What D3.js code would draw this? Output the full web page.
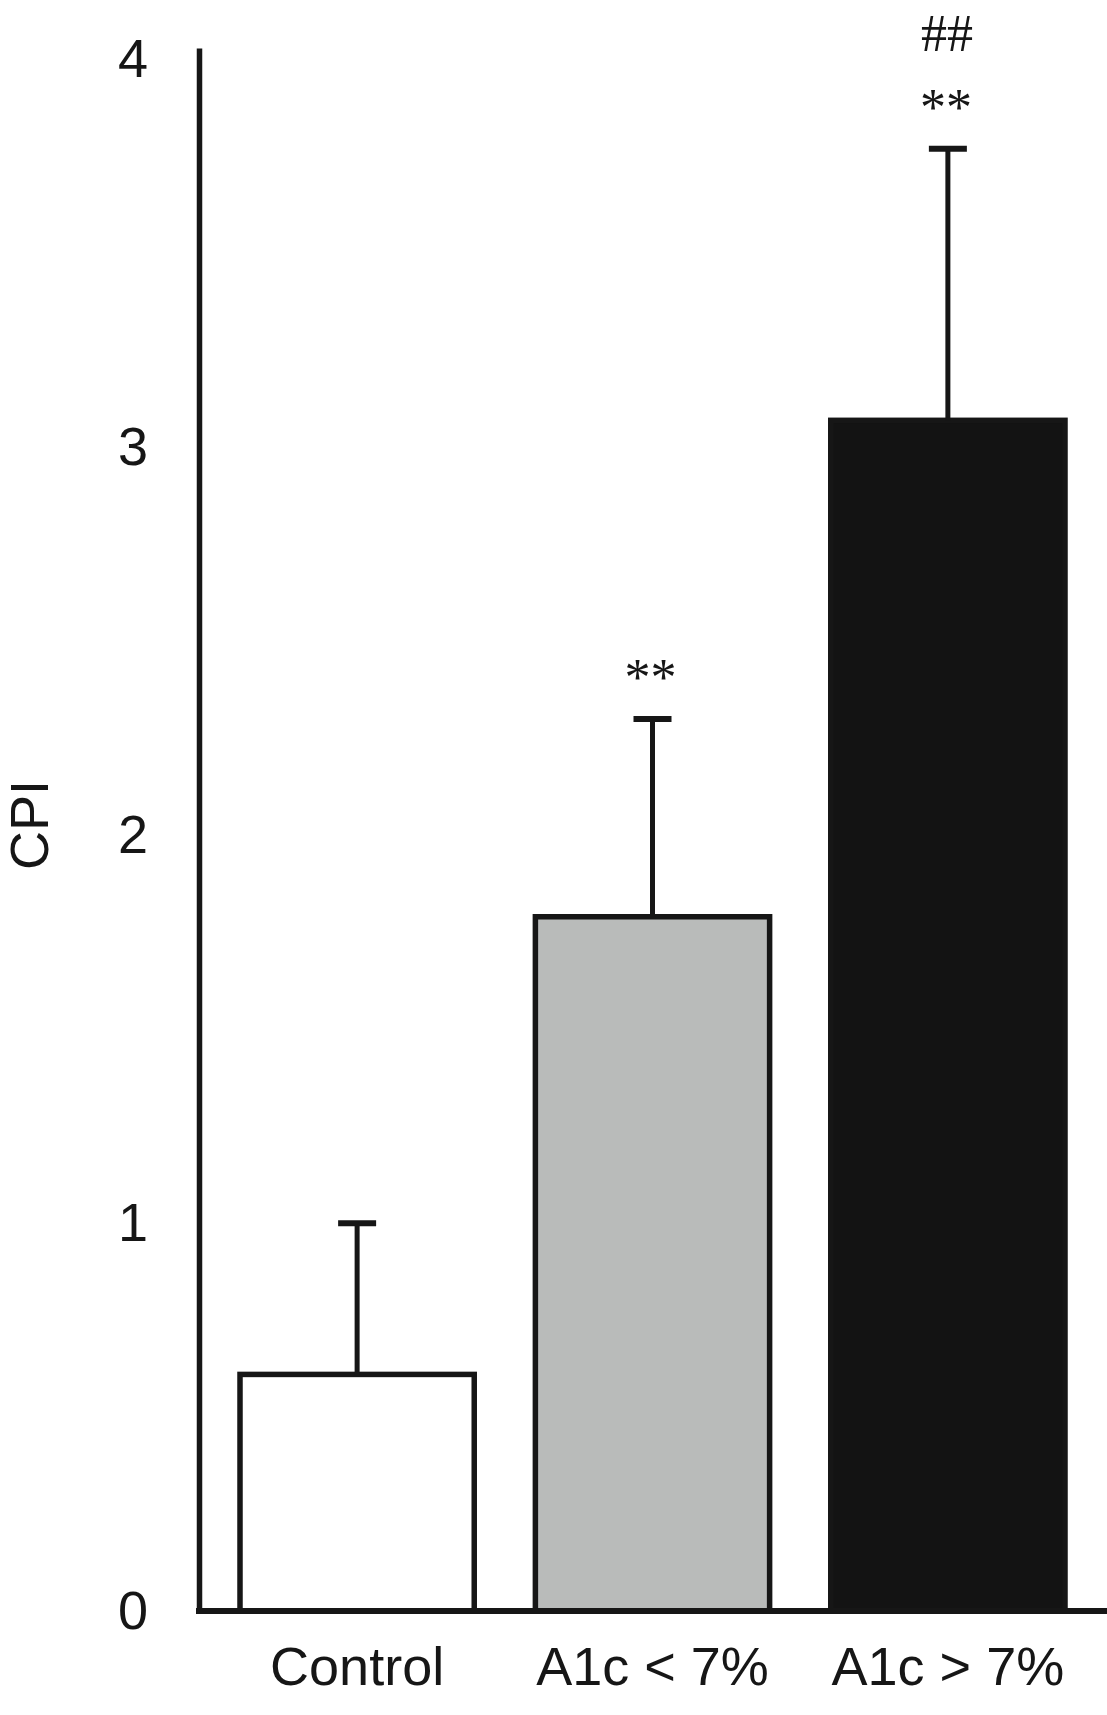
<!DOCTYPE html>
<html>
<head>
<meta charset="utf-8">
<script src="https://cdn.jsdelivr.net/npm/d3@7"></script>
<style>
	body { margin: 0; background: #fff; }
	svg { display: block; }
	.axis text { font-family: "Liberation Sans", Arial, sans-serif; font-size: 54px; fill: #161616; }
	.mark { font-family: "Liberation Serif", "Times New Roman", serif; font-size: 52px; fill: #161616; }
</style>
</head>
<body>
<div id="graph"></div>
<script>
const groups = ['Control', 'A1c < 7%', 'A1c > 7%'];
const means = [0.61, 1.79, 3.07];
const errors = [0.39, 0.51, 0.7];
const fills = ['#ffffff', '#b9bbba', '#131313'];
const starLabels = ['', '**', '**'];
const hashLabels = ['', '', '##'];
const yTicks = [0, 1, 2, 3, 4];

function drawGraph() {
	const width = 1107,
		height = 1715;
	const ink = '#161616';

	const svg = d3.select('#graph').append('svg').attr('width', width).attr('height', height);

	const xScale = d3.scaleBand().domain(groups).range([240, 1065]).paddingInner(0.207).paddingOuter(0);

	const yScale = d3.scaleLinear().domain([0, 4.03]).range([1611, 48]);

	const axisX = 199;

	// bars
	svg.selectAll('.bar')
		.data(groups)
		.enter()
		.append('rect')
		.attr('class', 'bar')
		.attr('x', (d) => xScale(d))
		.attr('width', xScale.bandwidth())
		.attr('y', (d, i) => yScale(means[i]))
		.attr('height', (d, i) => yScale(0) - yScale(means[i]))
		.attr('fill', (d, i) => fills[i])
		.attr('stroke', ink)
		.attr('stroke-width', 5.5);

	// error bars (upper only)
	const err = svg.selectAll('.err').data(groups).enter().append('g').attr('class', 'err');

	err.append('line')
		.attr('x1', (d) => xScale(d) + xScale.bandwidth() / 2)
		.attr('x2', (d) => xScale(d) + xScale.bandwidth() / 2)
		.attr('y1', (d, i) => yScale(means[i]))
		.attr('y2', (d, i) => yScale(means[i] + errors[i]))
		.attr('stroke', ink)
		.attr('stroke-width', 5);

	err.append('line')
		.attr('x1', (d) => xScale(d) + xScale.bandwidth() / 2 - 19)
		.attr('x2', (d) => xScale(d) + xScale.bandwidth() / 2 + 19)
		.attr('y1', (d, i) => yScale(means[i] + errors[i]))
		.attr('y2', (d, i) => yScale(means[i] + errors[i]))
		.attr('stroke', ink)
		.attr('stroke-width', 6);

	// significance marks
	svg.selectAll('.star')
		.data(groups)
		.enter()
		.append('text')
		.attr('class', 'mark')
		.attr('text-anchor', 'middle')
		.attr('x', (d) => xScale(d) + xScale.bandwidth() / 2 - 2)
		.attr('y', (d, i) => yScale(means[i] + errors[i]) - 24)
		.text((d, i) => starLabels[i]);

	svg.selectAll('.hash')
		.data(groups)
		.enter()
		.append('text')
		.attr('class', 'mark')
		.attr('text-anchor', 'middle')
		.attr('x', (d) => xScale(d) + xScale.bandwidth() / 2 - 1)
		.attr('y', (d, i) => yScale(means[i] + errors[i]) - 98)
		.text((d, i) => hashLabels[i]);

	// y axis
	const yAxis = d3.axisLeft(yScale).tickValues(yTicks).tickFormat(d3.format('d')).tickSize(0).tickPadding(51);

	const gy = svg.append('g').attr('class', 'axis').attr('transform', `translate(${axisX}, 0)`).call(yAxis);
	gy.select('.domain').attr('stroke', ink).attr('stroke-width', 5.5);
	gy.selectAll('text').attr('fill', ink);

	// x axis (labels only) + baseline
	const xAxis = d3.axisBottom(xScale).tickSize(0).tickPadding(36);
	const gx = svg.append('g').attr('class', 'axis').attr('transform', `translate(0, ${yScale(0)})`).call(xAxis);
	gx.select('.domain').remove();
	gx.selectAll('text').attr('fill', ink);

	svg.append('line')
		.attr('x1', axisX - 3)
		.attr('x2', width)
		.attr('y1', yScale(0))
		.attr('y2', yScale(0))
		.attr('stroke', ink)
		.attr('stroke-width', 6);

	// y label
	svg.append('text')
		.attr('class', 'axis')
		.attr('transform', 'translate(48, 825) rotate(-90)')
		.attr('text-anchor', 'middle')
		.style('font-family', '"Liberation Sans", Arial, sans-serif')
		.style('font-size', '54px')
		.attr('fill', ink)
		.text('CPI');
}

drawGraph();
</script>
</body>
</html>
